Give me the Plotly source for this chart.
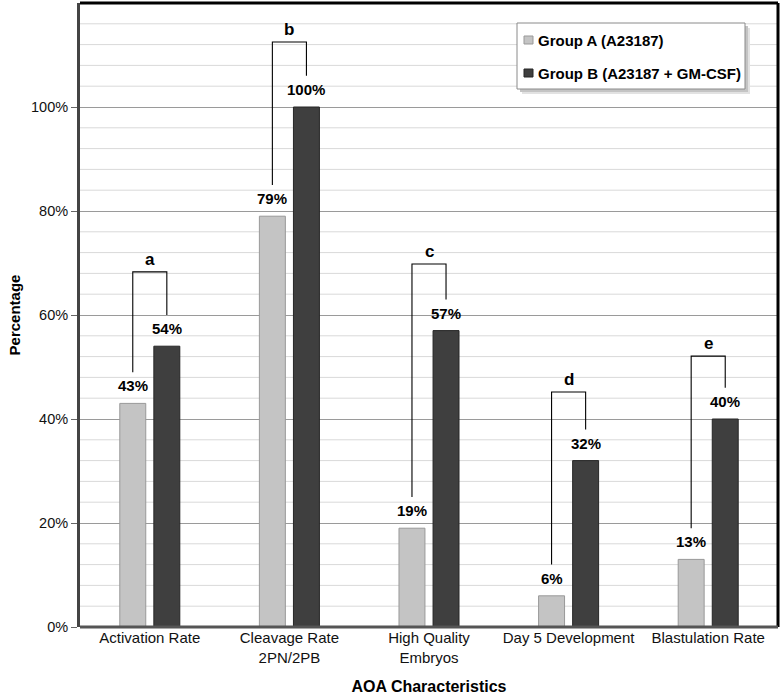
import plotly.graph_objects as go

categories = ["Activation Rate", "Cleavage Rate<br>2PN/2PB", "High Quality<br>Embryos",
              "Day 5 Development", "Blastulation Rate"]
group_a = [43, 79, 19, 6, 13]
group_b = [54, 100, 57, 32, 40]
series_names = ["Group A (A23187)", "Group B (A23187 + GM-CSF)"]
sig_letters = ["a", "b", "c", "d", "e"]
bracket_top = [68.3, 112.5, 69.8, 45.2, 52.1]
y_tickvals = [0, 20, 40, 60, 80, 100]
y_ticktext = ["0%", "20%", "40%", "60%", "80%", "100%"]

FONT = "Liberation Sans, Arial, Helvetica, sans-serif"
COL_A, EDGE_A = "#c4c4c4", "#999999"
COL_B, EDGE_B = "#3f3f3f", "#262626"
xs = list(range(len(categories)))
BW = 0.186
OFF_A, OFF_B = -0.215, 0.029
CA, CB = OFF_A + BW / 2, OFF_B + BW / 2

# layout geometry (pixels)
W, H = 782, 700
ML, MR, MT, MB = 80, 4, 3, 73
PW, PH = W - ML - MR, H - MT - MB


def px(xp):
    return (xp - ML) / PW


def py(yp):
    return (H - MB - yp) / PH


fig = go.Figure()
fig.add_trace(go.Bar(x=xs, y=group_a, name=series_names[0], width=BW, offset=OFF_A,
                     marker=dict(color=COL_A, line=dict(color=EDGE_A, width=1))))
fig.add_trace(go.Bar(x=xs, y=group_b, name=series_names[1], width=BW, offset=OFF_B,
                     marker=dict(color=COL_B, line=dict(color=EDGE_B, width=1))))

shapes = []
annotations = []
# minor gridlines
for v in range(0, 121, 4):
    if v % 20 == 0:
        continue
    shapes.append(dict(type="line", xref="paper", yref="y", x0=0, x1=1, y0=v, y1=v,
                       line=dict(color="#d9d9d9", width=1), layer="below"))

for i, x in enumerate(xs):
    for val, c in ((group_a[i], CA), (group_b[i], CB)):
        annotations.append(dict(x=x + c, y=val, text=f"<b>{val}%</b>", showarrow=False,
                                yanchor="bottom", yshift=7,
                                font=dict(family=FONT, size=15, color="black")))
    top = bracket_top[i]
    la = group_a[i] + 6
    lb = group_b[i] + 6
    shapes.append(dict(type="path", xref="x", yref="y",
                       path=f"M {x + CA} {la} L {x + CA} {top} L {x + CB} {top} L {x + CB} {lb}",
                       line=dict(color="black", width=1.1)))
    annotations.append(dict(x=x, y=top, text=f"<b>{sig_letters[i]}</b>", showarrow=False,
                            yanchor="bottom", yshift=1,
                            font=dict(family=FONT, size=17, color="black")))

# manual legend: shadow, box, swatches, text
for off, col in ((5, "#e2e2e2"), (3, "#c4c4c4")):
    shapes.append(dict(type="rect", xref="paper", yref="paper",
                       x0=px(517 + off), x1=px(745 + off), y0=py(89 + off), y1=py(23 + off),
                       fillcolor=col, line=dict(width=0), layer="above"))
shapes.append(dict(type="rect", xref="paper", yref="paper",
                   x0=px(517), x1=px(745), y0=py(89), y1=py(23),
                   fillcolor="white", line=dict(color="#8a8a8a", width=1), layer="above"))
for name, yc, col, edge in ((series_names[0], 40, COL_A, EDGE_A),
                            (series_names[1], 73, COL_B, EDGE_B)):
    shapes.append(dict(type="rect", xref="paper", yref="paper",
                       x0=px(524), x1=px(533), y0=py(yc + 4), y1=py(yc - 4),
                       fillcolor=col, line=dict(color=edge, width=1), layer="above"))
    annotations.append(dict(xref="paper", yref="paper", x=px(536), y=py(yc),
                            xanchor="left", yanchor="middle", showarrow=False,
                            text=f"<b>{name}</b>",
                            font=dict(family=FONT, size=15, color="black")))

# frame
shapes.append(dict(type="line", xref="paper", yref="paper", x0=0, x1=1, y0=1, y1=1,
                   line=dict(color="black", width=3)))
shapes.append(dict(type="line", xref="paper", yref="paper", x0=1, x1=1, y0=0, y1=1,
                   line=dict(color="black", width=3)))
shapes.append(dict(type="line", xref="paper", yref="paper", x0=0, x1=1, y0=0, y1=0,
                   line=dict(color="#555555", width=3)))

fig.update_layout(
    width=W, height=H,
    margin=dict(l=ML, r=MR, t=MT, b=MB, autoexpand=False),
    paper_bgcolor="white", plot_bgcolor="white",
    barmode="overlay",
    font=dict(family=FONT, size=14, color="#111111"),
    shapes=shapes, annotations=annotations,
    showlegend=False,
    xaxis=dict(range=[-0.5, 4.5], tickmode="array", tickvals=xs, ticktext=categories,
               showgrid=False, zeroline=False, showline=False, ticks="", automargin=False,
               tickfont=dict(family=FONT, size=15, color="#111111"),
               title=dict(text="<b>AOA Characteristics</b>", standoff=16,
                          font=dict(family=FONT, size=16, color="black"))),
    yaxis=dict(range=[0, 120], tickmode="array", tickvals=y_tickvals, ticktext=y_ticktext,
               showgrid=True, gridcolor="#9a9a9a", gridwidth=1, zeroline=False,
               showline=True, linecolor="#444444", linewidth=3, ticks="outside",
               ticklen=6, tickcolor="#666666", automargin=False,
               tickfont=dict(family=FONT, size=14.5, color="#111111"),
               title=dict(text="<b>Percentage</b>", standoff=7,
                          font=dict(family=FONT, size=15, color="black"))),
)

fig.write_html("out.html", config={"displayModeBar": False},
               post_script="document.body.style.margin='0';document.body.style.overflow='hidden';")
